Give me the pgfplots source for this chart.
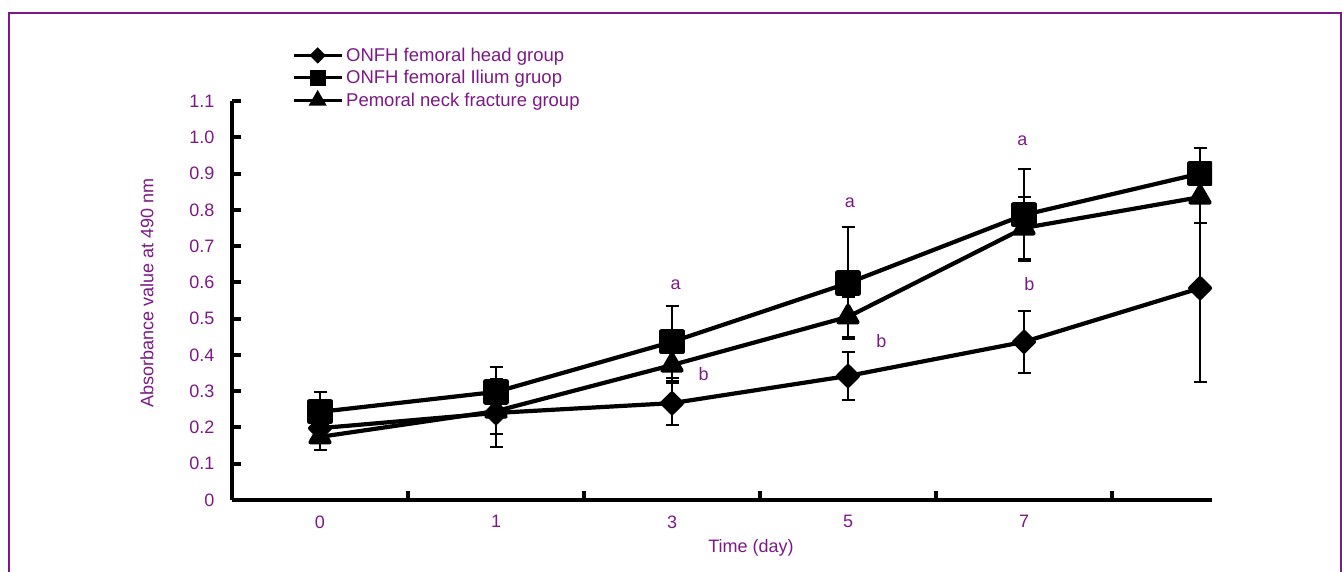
\documentclass[border=0pt]{standalone}
\usepackage{fontspec}
\setmainfont{Liberation Sans}
\usepackage{pgfplots}
\pgfplotsset{compat=1.18}
\definecolor{purp}{RGB}{125,25,135}
\newcommand{\ff}{\fontsize{18}{21}\selectfont}
\newcommand{\lf}{\fontsize{18.5}{21}\selectfont}
\begin{document}
\begin{tikzpicture}[x=1pt,y=1pt]
\useasboundingbox (0,0) rectangle (1342,572);
\draw[purp,line width=2pt] (8.5,-3) -- (8.5,558.7) -- (1340.5,558.7) -- (1340.5,-3);
\begin{axis}[
  at={(232pt,72pt)}, anchor=south west,
  scale only axis, width=980pt, height=399pt,
  xmin=-0.5, xmax=5.068, ymin=0, ymax=1.1,
  axis x line=bottom, axis y line=left,
  axis line style={-, line width=4pt, black},
  tick align=inside, major tick length=9pt,
  tick style={black, line width=4pt},
  /pgf/number format/assume math mode=true,
  ticklabel style={font=\ff, text=purp},
  xtick={0.5,1.5,2.5,3.5,4.5}, xticklabels={},
  extra x ticks={0,1,2,3,4}, extra x tick labels={0,1,3,5,7},
  extra x tick style={major tick length=0pt, tick style={draw=none}},
  xticklabel style={yshift=-12pt},
  ytick={0,0.1,0.2,0.3,0.4,0.5,0.6,0.7,0.8,0.9,1.0,1.1},
  yticklabels={0,0.1,0.2,0.3,0.4,0.5,0.6,0.7,0.8,0.9,1.0,1.1},
  yticklabel style={xshift=-14pt},
  xlabel={Time (day)}, ylabel={Absorbance value at 490 nm},
  label style={font=\ff, text=purp},
  xlabel style={at={(axis description cs:0.5296,-0.1203)}, anchor=center},
  ylabel style={at={(axis description cs:-0.0867,0.519)}, anchor=center},
  clip marker paths=true,
  legend image code/.code={\draw[mark repeat=2,mark phase=2,#1] plot coordinates {(0pt,0pt) (24pt,0pt) (48pt,0pt)};},
  legend style={draw=none, fill=none, inner sep=0pt, at={(axis description cs:0.0612,1.1429)}, anchor=north west, font=\lf, text=purp, nodes={inner ysep=3.8pt, inner xsep=3pt}},
  legend cell align=left,
]
% ONFH femoral head group (diamond)
\addplot[forget plot, black, line width=4.2pt, line join=round, mark=square*, mark size=7pt, mark options={rotate=45, solid},
  error bars/.cd, y dir=both, y explicit, error mark=-, error bar style={line width=2pt, black}, error mark options={line width=2pt, mark size=6.5pt, black, rotate=90}]
  coordinates {(0,0.198) +- (0,0.03) (1,0.240) +- (0,0.094) (2,0.267) +- (0,0.06) (3,0.342) +- (0,0.065) (4,0.436) +- (0,0.085) (5,0.584) +- (0,0.26)};
% ONFH femoral ilium group (square)
\addplot[forget plot, black, line width=4.2pt, line join=round, mark=square*, mark size=10.5pt, mark options={solid},
  error bars/.cd, y dir=both, y explicit, error mark=-, error bar style={line width=2pt, black}, error mark options={line width=2pt, mark size=6.5pt, black, rotate=90}]
  coordinates {(0,0.243) +- (0,0.055) (1,0.298) +- (0,0.07) (2,0.436) +- (0,0.10) (3,0.598) +- (0,0.155) (4,0.786) +- (0,0.126) (5,0.900) +- (0,0.07)};
% Pemoral neck fracture group (triangle)
\addplot[forget plot, black, line width=4.2pt, line join=round, mark=triangle*, mark size=11pt, mark options={solid},
  error bars/.cd, y dir=both, y explicit, error mark=-, error bar style={line width=2pt, black}, error mark options={line width=2pt, mark size=6.5pt, black, rotate=90}]
  coordinates {(0,0.174) +- (0,0.036) (1,0.245) +- (0,0.063) (2,0.372) +- (0,0.05) (3,0.505) +- (0,0.055) (4,0.750) +- (0,0.085) (5,0.835) +- (0,0.07)};
\addlegendimage{black, line width=3pt, mark=square*, mark size=4.3pt, mark options={rotate=45, solid}}
\addlegendentry{ONFH femoral head group}
\addlegendimage{black, line width=3pt, mark=square*, mark size=6.5pt, mark options={solid}}
\addlegendentry{ONFH femoral Ilium gruop}
\addlegendimage{black, line width=3pt, mark=triangle*, mark size=7.5pt, mark options={solid}}
\addlegendentry{Pemoral neck fracture group}
\node[text=purp, font=\ff] at (axis cs:2.02,0.593) {a};
\node[text=purp, font=\ff] at (axis cs:2.18,0.347) {b};
\node[text=purp, font=\ff] at (axis cs:3.01,0.819) {a};
\node[text=purp, font=\ff] at (axis cs:3.19,0.438) {b};
\node[text=purp, font=\ff] at (axis cs:3.99,0.990) {a};
\node[text=purp, font=\ff] at (axis cs:4.03,0.596) {b};
\end{axis}
\end{tikzpicture}
\end{document}
